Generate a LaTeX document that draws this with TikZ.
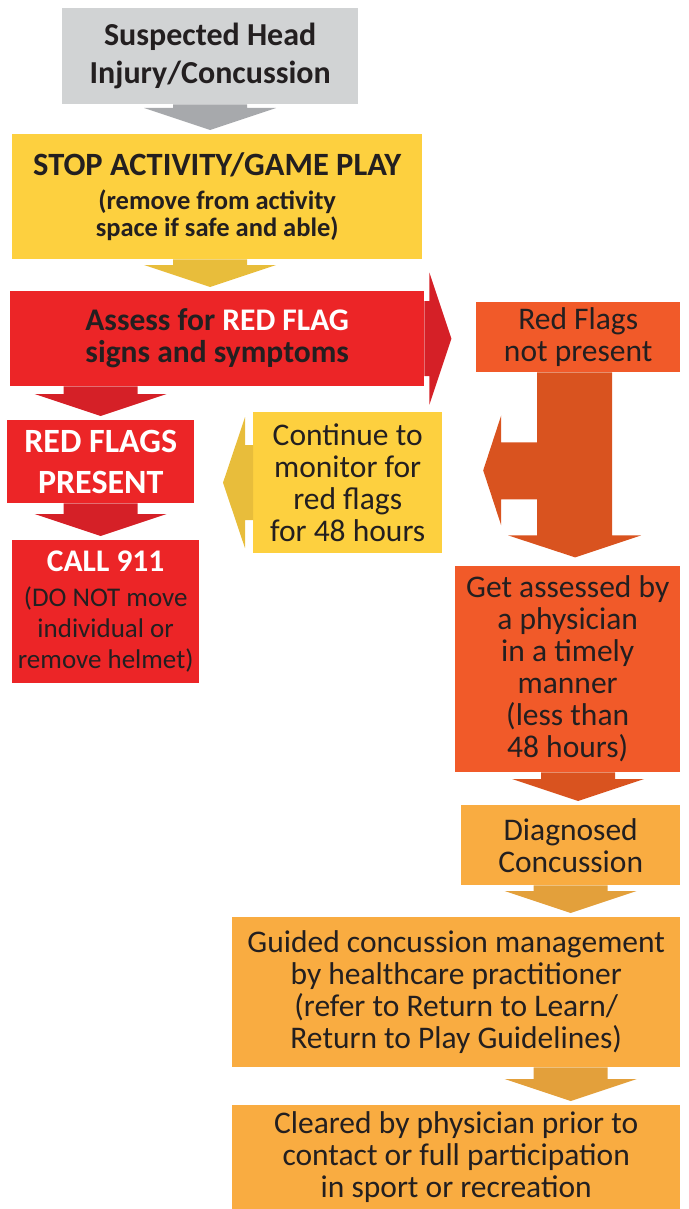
\documentclass[tikz,border=0pt]{standalone}
\usepackage{fontspec}
\setmainfont{Carlito}
\usetikzlibrary{calc}

\definecolor{greybox}{HTML}{D1D3D4}
\definecolor{greyarrow}{HTML}{A7A9AC}
\definecolor{yellowbox}{HTML}{FDD03F}
\definecolor{yellowarrow}{HTML}{E8BD3B}
\definecolor{redbox}{HTML}{EC2527}
\definecolor{redarrow}{HTML}{D52027}
\definecolor{orangebox}{HTML}{F15A29}
\definecolor{orangearrow}{HTML}{D9531F}
\definecolor{amberbox}{HTML}{F9AC41}
\definecolor{amberarrow}{HTML}{E3A03B}
\definecolor{ink}{HTML}{231F20}

% block arrow pointing down: from node, to node, node giving the x, colour
\newcommand{\blockdown}[4]{%
	\fill[#4] let \p1=(#1.south), \p2=(#2.north), \p3=(#3.center) in
	(\x3-37pt,\y1) -- (\x3+37pt,\y1) -- (\x3+37pt,\y2+26pt) -- (\x3+66pt,\y2+26pt)
	-- (\x3,\y2+4pt) -- (\x3-66pt,\y2+26pt) -- (\x3-37pt,\y2+26pt) -- cycle;}

\begin{document}
\begin{tikzpicture}[x=1pt, y=-1pt,
		box/.style={rectangle, anchor=north west, inner sep=0pt, align=center, text=ink},
		txt/.style={font=\fontsize{31.5}{32}\selectfont}]
			\useasboundingbox (0,0) rectangle (688,1209);
			
			\node[box, fill=greybox, minimum width=296pt, minimum height=96pt,
				font=\bfseries\fontsize{32}{38}\selectfont] (suspect) at (62,8)
				{Suspected Head\\Injury/Concussion};
			\node[box, fill=yellowbox, minimum width=410pt, minimum height=125pt,
				font=\bfseries\fontsize{26.5}{27}\selectfont] (stop) at (12,134)
				{{\fontsize{32.5}{32}\selectfont STOP ACTIVITY/GAME PLAY}\\[7pt]
				(remove from activity\\space if safe and able)};
			\node[box, fill=redbox, minimum width=414pt, minimum height=95pt,
				font=\bfseries\fontsize{31.5}{32}\selectfont] (assess) at (10,291)
				{Assess for \textcolor{white}{RED FLAG}\\signs and symptoms};
			\node[box, txt, fill=orangebox, minimum width=204pt, minimum height=70pt] (nopres) at (476,302)
				{Red Flags\\not present};
			\node[box, fill=redbox, text=white, minimum width=187pt, minimum height=83pt,
				font=\bfseries\fontsize{34}{41}\selectfont] (present) at (7,420)
				{RED FLAGS\\PRESENT};
			\node[box, fill=redbox, minimum width=187pt, minimum height=143pt,
				font=\fontsize{27}{31}\selectfont] (call) at (12,540)
				{{\bfseries\color{white}\fontsize{31.5}{32}\selectfont CALL 911}\\[4pt]
				(DO NOT move\\individual or\\remove helmet)};
			\node[box, txt, fill=yellowbox, minimum width=189pt, minimum height=141pt] (monitor) at (253,412)
				{Continue to\\monitor for\\red flags\\for 48 hours};
			\node[box, txt, fill=orangebox, minimum width=225pt, minimum height=206pt] (getass) at (455,566)
				{Get assessed by\\a physician\\in a timely\\manner\\(less than\\48 hours)};
			\node[box, txt, fill=amberbox, minimum width=219pt, minimum height=80pt] (diag) at (461,805)
				{Diagnosed\\Concussion};
			\node[box, txt, fill=amberbox, minimum width=448pt, minimum height=150pt] (guided) at (232,917)
				{Guided concussion management\\by healthcare practitioner\\(refer to Return to Learn/\\Return to Play Guidelines)};
			\node[box, txt, fill=amberbox, minimum width=448pt, minimum height=104pt] (cleared) at (232,1105)
				{Cleared by physician prior to\\contact or full participation\\in sport or recreation};
			
			\blockdown{suspect}{stop}{suspect}{greyarrow}
			\blockdown{stop}{assess}{suspect}{yellowarrow}
			\blockdown{assess}{present}{present}{redarrow}
			\blockdown{present}{call}{present}{redarrow}
			\blockdown{getass}{diag}{nopres}{orangearrow}
			\blockdown{diag}{guided}{diag}{amberarrow}
			\blockdown{guided}{cleared}{diag}{amberarrow}
			
			% sideways arrows
			\fill[redarrow] let \p1=(assess.east) in
				(\x1,\y1+37.5pt) -- (\x1+5pt,\y1+37.5pt) -- (\x1+5pt,\y1+66pt) -- (\x1+27pt,\y1)
				-- (\x1+5pt,\y1-66pt) -- (\x1+5pt,\y1-37.5pt) -- (\x1,\y1-37.5pt) -- cycle;
			\fill[yellowarrow] let \p1=(monitor.west) in
				(\x1,\y1+37.5pt) -- (\x1-8pt,\y1+37.5pt) -- (\x1-8pt,\y1+65.5pt) -- (\x1-30pt,\y1)
				-- (\x1-8pt,\y1-65.5pt) -- (\x1-8pt,\y1-37.5pt) -- (\x1,\y1-37.5pt) -- cycle;
			
			% down and back to the monitor box
			\fill[orangearrow] ($(nopres.south)+(-41,0)$) -- ($(nopres.south)+(34,0)$)
				-- ($(nopres.south)+(34,163)$) -- ($(nopres.south)+(63,163)$)
				-- ($(nopres.south)+(-3,185)$) -- ($(nopres.south)+(-70,163)$)
				-- ($(nopres.south)+(-41,163)$) -- ($(nopres.south)+(-41,127)$)
				-- ($(nopres.south)+(-77,127)$) -- ($(nopres.south)+(-77,153)$)
				-- ($(nopres.south)+(-95,98)$) -- ($(nopres.south)+(-77,43)$)
				-- ($(nopres.south)+(-77,70)$) -- ($(nopres.south)+(-41,70)$) -- cycle;
			
		\end{tikzpicture}
\end{document}
